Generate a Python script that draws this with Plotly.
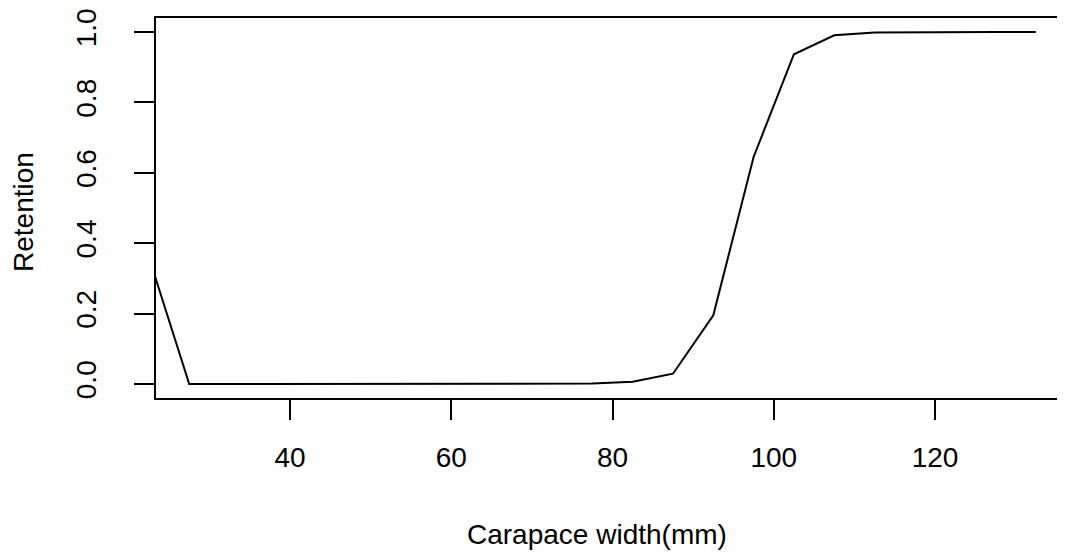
import plotly.graph_objects as go

# Carapace width (mm) class midpoints and fitted retention
width_mm = [22.5, 27.5, 32.5, 37.5, 42.5, 47.5, 52.5, 57.5, 62.5, 67.5, 72.5,
            77.5, 82.5, 87.5, 92.5, 97.5, 102.5, 107.5, 112.5, 117.5, 122.5,
            127.5, 132.5]
retention = [0.36, 0.0, 0.0, 0.0, 0.0, 0.0, 0.0, 0.0, 0.0, 0.0, 0.0,
             0.001, 0.006, 0.029, 0.195, 0.645, 0.937, 0.991, 0.999, 1.0, 1.0,
             1.0, 1.0]

x_ticks = [40, 60, 80, 100, 120]
y_ticks = [0.0, 0.2, 0.4, 0.6, 0.8, 1.0]

FONT = "Liberation Sans, Arial, sans-serif"

fig = go.Figure()
fig.add_trace(go.Scatter(
    x=width_mm, y=retention, mode="lines",
    line=dict(color="black", width=2),
    showlegend=False, hoverinfo="skip",
))

# page body adds 8px, so the figure is a bit smaller than the window
fig.update_layout(
    width=1057, height=550,
    margin=dict(l=148, r=0, t=8, b=160),
    paper_bgcolor="white", plot_bgcolor="white",
    font=dict(family=FONT, size=28, color="black"),
    xaxis=dict(
        range=[23.38, 136.12], tickvals=x_ticks,
        ticks="outside", ticklen=20, tickwidth=2, tickcolor="black",
        showline=True, linecolor="black", linewidth=2, mirror=True,
        showgrid=False, zeroline=False, ticklabelstandoff=13,
    ),
    yaxis=dict(
        range=[-0.04, 1.04], tickvals=y_ticks, tickformat=".1f",
        tickangle=-90, ticklabeloverflow="allow",
        ticks="outside", ticklen=20, tickwidth=2, tickcolor="black",
        showline=True, linecolor="black", linewidth=2, mirror=False,
        showgrid=False, zeroline=False, ticklabelstandoff=27,
    ),
    annotations=[
        dict(text="Carapace width(mm)", xref="paper", yref="paper",
             x=0.485, y=-0.36, xanchor="center", yanchor="middle",
             showarrow=False, font=dict(size=28)),
        dict(text="Retention", xref="paper", yref="paper",
             x=-0.145, y=0.49, xanchor="center", yanchor="middle",
             textangle=-90, showarrow=False, font=dict(size=28)),
    ],
)

fig.write_html("out.html")
